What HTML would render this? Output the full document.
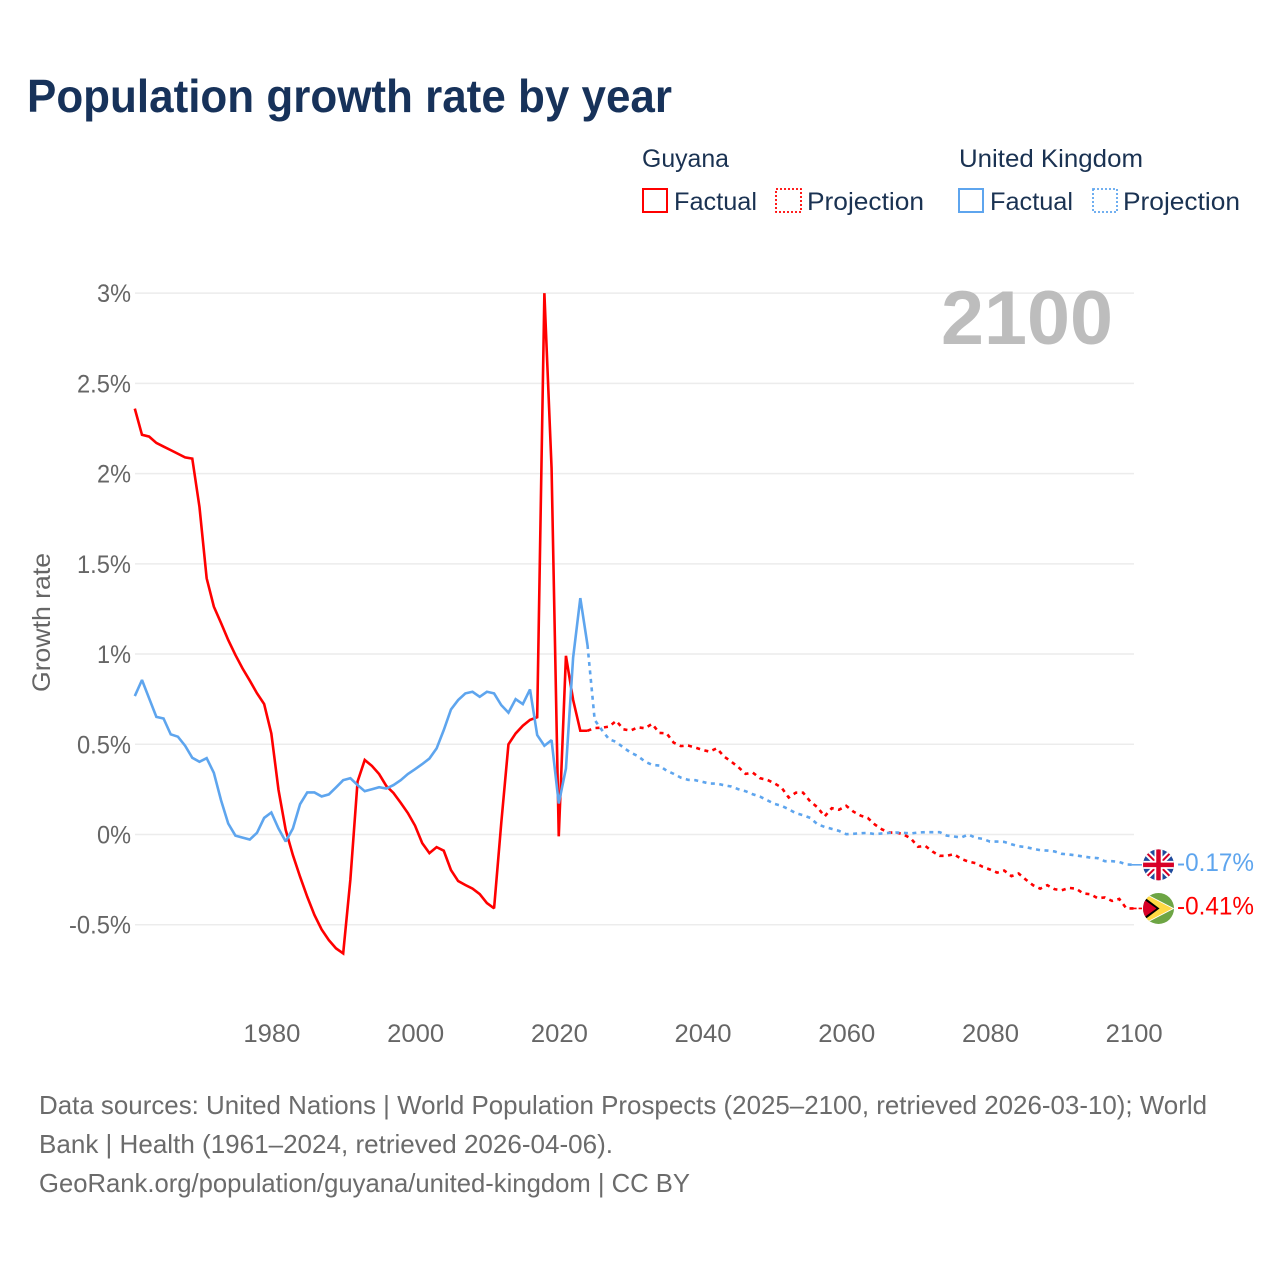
<!DOCTYPE html>
<html lang="en">
<head>
<meta charset="utf-8">
<title>Population growth rate by year</title>
<style>
html,body{margin:0;padding:0;background:#fff;width:1280px;height:1280px;overflow:hidden}
svg{display:block}
text{font-family:"Liberation Sans",sans-serif}
</style>
</head>
<body>
<svg id="chart" xmlns="http://www.w3.org/2000/svg" width="1280" height="1280" viewBox="0 0 1280 1280">
  <defs>
    <clipPath id="uk-clip"><circle cx="0" cy="0" r="15.5"/></clipPath>
    <clipPath id="gy-clip"><circle cx="0" cy="0" r="15.5"/></clipPath>
  </defs>
  <text x="27" y="112" font-size="46" font-weight="700" fill="#17325a" textLength="645" lengthAdjust="spacingAndGlyphs">Population growth rate by year</text>

  <g font-size="25" fill="#1a3252">
    <text x="642" y="167" textLength="87" lengthAdjust="spacingAndGlyphs">Guyana</text>
    <rect x="643" y="189" width="24" height="23" fill="none" stroke="#ff0000" stroke-width="2"/>
    <text x="674" y="210" textLength="83" lengthAdjust="spacingAndGlyphs">Factual</text>
    <rect x="776" y="189" width="25" height="23" fill="none" stroke="#ff0000" stroke-width="1.8" stroke-dasharray="2 2"/>
    <text x="807" y="210" textLength="117" lengthAdjust="spacingAndGlyphs">Projection</text>
    <text x="959" y="167" textLength="184" lengthAdjust="spacingAndGlyphs">United Kingdom</text>
    <rect x="959" y="189" width="24" height="23" fill="none" stroke="#5ea5ee" stroke-width="2"/>
    <text x="990" y="210" textLength="83" lengthAdjust="spacingAndGlyphs">Factual</text>
    <rect x="1093" y="189" width="24" height="23" fill="none" stroke="#5ea5ee" stroke-width="1.8" stroke-dasharray="2 2"/>
    <text x="1123" y="210" textLength="117" lengthAdjust="spacingAndGlyphs">Projection</text>
  </g>

  <g id="grid"></g>
  <text x="941" y="344" font-size="76" font-weight="700" fill="#bdbdbd" textLength="172" lengthAdjust="spacingAndGlyphs">2100</text>
  <g id="y-ticks"></g>
  <g id="x-ticks"></g>
  <text transform="translate(50 692) rotate(-90)" x="0" y="0" font-size="25" fill="#666666" textLength="139" lengthAdjust="spacingAndGlyphs">Growth rate</text>

  <g id="series"></g>

  <g id="flag-uk">
    <g clip-path="url(#uk-clip)">
      <rect x="-16" y="-16" width="32" height="32" fill="#1f4a9c"/>
      <path d="M-16 -16L16 16M16 -16L-16 16" stroke="#ffffff" stroke-width="6" fill="none"/>
      <path d="M-16 -16L16 16M16 -16L-16 16" stroke="#d80027" stroke-width="2" fill="none"/>
      <path d="M0 -16V16M-16 0H16" stroke="#ffffff" stroke-width="8" fill="none"/>
      <path d="M0 -16V16M-16 0H16" stroke="#d80027" stroke-width="4.5" fill="none"/>
    </g>
  </g>
  <g id="flag-gy">
    <g clip-path="url(#gy-clip)">
      <rect x="-16" y="-16" width="32" height="32" fill="#6da544"/>
      <path d="M-15 -16L16 0L-15 16Z" fill="#ffffff"/>
      <path d="M-13 -14L14 0L-13 14Z" fill="#ffda44"/>
      <path d="M-15 -12L1 0L-15 12Z" fill="#000000"/>
      <path d="M-16 -10L-2 0L-16 10Z" fill="#d80027"/>
    </g>
  </g>
  <text id="end-uk" x="1177" font-size="25" fill="#5ea5ee" textLength="77" lengthAdjust="spacingAndGlyphs"></text>
  <text id="end-gy" x="1177" font-size="25" fill="#ff0000" textLength="77" lengthAdjust="spacingAndGlyphs"></text>

  <g font-size="26" fill="#6b6b6b">
    <text x="39" y="1114" textLength="1168" lengthAdjust="spacingAndGlyphs">Data sources: United Nations | World Population Prospects (2025–2100, retrieved 2026-03-10); World</text>
    <text x="39" y="1153" textLength="574" lengthAdjust="spacingAndGlyphs">Bank | Health (1961–2024, retrieved 2026-04-06).</text>
    <text x="39" y="1192" textLength="651" lengthAdjust="spacingAndGlyphs">GeoRank.org/population/guyana/united-kingdom | CC BY</text>
  </g>
</svg>
<script>
const factualStartYear = 1961;
const projectionStartYear = 2024;
const yTickValues = [-0.5, 0, 0.5, 1, 1.5, 2, 2.5, 3];
const yTickLabels = ["-0.5%", "0%", "0.5%", "1%", "1.5%", "2%", "2.5%", "3%"];
const xTickYears = [1980, 2000, 2020, 2040, 2060, 2080, 2100];
const guyanaFactual = [2.36,2.215,2.205,2.17,2.15,2.13,2.11,2.09,2.083,1.815,1.42,1.263,1.172,1.078,0.995,0.92,0.853,0.783,0.723,0.56,0.247,0.025,-0.114,-0.234,-0.345,-0.446,-0.526,-0.585,-0.631,-0.659,-0.25,0.293,0.413,0.38,0.335,0.269,0.23,0.176,0.119,0.049,-0.048,-0.103,-0.07,-0.09,-0.197,-0.258,-0.28,-0.3,-0.33,-0.38,-0.409,0.064,0.5,0.56,0.603,0.635,0.65,3.0,2.03,-0.01,0.99,0.746,0.575,0.575];
const guyanaProjection = [0.575,0.59,0.592,0.598,0.63,0.583,0.576,0.594,0.589,0.613,0.563,0.561,0.509,0.49,0.493,0.482,0.469,0.459,0.478,0.432,0.404,0.373,0.336,0.343,0.312,0.303,0.284,0.26,0.205,0.232,0.232,0.183,0.151,0.1,0.146,0.137,0.159,0.127,0.105,0.092,0.055,0.028,0.011,0.011,0,-0.022,-0.068,-0.063,-0.094,-0.118,-0.118,-0.109,-0.135,-0.15,-0.159,-0.179,-0.194,-0.211,-0.2,-0.231,-0.216,-0.25,-0.281,-0.3,-0.281,-0.303,-0.309,-0.296,-0.3,-0.327,-0.331,-0.353,-0.349,-0.368,-0.357,-0.41,-0.41];
const ukFactual = [0.767,0.856,0.754,0.652,0.643,0.555,0.542,0.492,0.425,0.403,0.423,0.342,0.19,0.061,-0.006,-0.017,-0.028,0.009,0.092,0.122,0.033,-0.039,0.033,0.168,0.233,0.233,0.211,0.222,0.261,0.301,0.312,0.274,0.24,0.251,0.262,0.255,0.274,0.301,0.335,0.362,0.39,0.421,0.477,0.579,0.693,0.745,0.782,0.791,0.763,0.791,0.782,0.717,0.675,0.75,0.723,0.804,0.551,0.492,0.523,0.172,0.366,0.98,1.31,1.05];
const ukProjection = [1.05,0.635,0.579,0.528,0.513,0.482,0.454,0.435,0.404,0.386,0.382,0.354,0.336,0.315,0.303,0.301,0.292,0.282,0.282,0.273,0.266,0.251,0.24,0.223,0.21,0.19,0.17,0.159,0.14,0.118,0.107,0.092,0.057,0.042,0.031,0.02,0.002,0.004,0.007,0.009,0.002,0.006,0.009,0.011,0.009,0.006,0.011,0.013,0.013,0.013,-0.006,-0.011,-0.017,0,-0.018,-0.024,-0.039,-0.039,-0.041,-0.054,-0.065,-0.07,-0.079,-0.087,-0.089,-0.094,-0.107,-0.111,-0.116,-0.122,-0.128,-0.131,-0.148,-0.148,-0.152,-0.166,-0.168];
const endLabelUk = "-0.17%";
const endLabelGuyana = "-0.41%";

const NS = "http://www.w3.org/2000/svg";
const RED = "#ff0000";
const BLUE = "#5ea5ee";
function xScale(year) { return 134.8 + (year - 1961) * (998.8 / 139); }
function yScale(v) { return 834.5 - v * 180.45; }
function make(tag, attrs, parent) {
  const el = document.createElementNS(NS, tag);
  for (const k in attrs) el.setAttribute(k, attrs[k]);
  parent.appendChild(el);
  return el;
}
function pointsFor(values, startYear) {
  return values.map((v, i) => xScale(startYear + i).toFixed(2) + "," + yScale(v).toFixed(2)).join(" ");
}
function pctWidth(label) {
  let w = 0;
  for (const c of label) w += c === "%" ? 20 : c === "." ? 6 : c === "-" ? 8 : 14;
  return w;
}

const grid = document.getElementById("grid");
const yTicks = document.getElementById("y-ticks");
yTickValues.forEach((v, i) => {
  const line = make("line", {x1: 135, x2: 1134, y1: yScale(v), y2: yScale(v), stroke: "#ececec", "stroke-width": 1.5}, grid);
  
  
  const label = make("text", {x: 131, y: yScale(v) + 9, "text-anchor": "end", "font-size": 25, fill: "#666666", textLength: pctWidth(yTickLabels[i]), lengthAdjust: "spacingAndGlyphs"}, yTicks);
  
  
  label.textContent = yTickLabels[i];
});

const xTicks = document.getElementById("x-ticks");
xTickYears.forEach((year) => {
  const label = make("text", {x: xScale(year) + 0.6, y: 1042, "text-anchor": "middle", "font-size": 25, fill: "#666666", textLength: 57, lengthAdjust: "spacingAndGlyphs"}, xTicks);
  
  
  label.textContent = String(year);
});

const ukEndY = yScale(ukProjection[ukProjection.length - 1]);
const gyEndY = yScale(guyanaProjection[guyanaProjection.length - 1]);
const series = document.getElementById("series");
const guyanaSolid = make("polyline", {points: pointsFor(guyanaFactual, factualStartYear), fill: "none", stroke: RED, "stroke-width": 2.6, "stroke-linejoin": "miter", "stroke-miterlimit": 2}, series);


const guyanaDashed = make("polyline", {points: pointsFor(guyanaProjection, projectionStartYear), fill: "none", stroke: RED, "stroke-width": 2.6, "stroke-dasharray": "4 4.5"}, series);


const guyanaConnector = make("line", {x1: xScale(2100) - 2, x2: 1142, y1: gyEndY, y2: gyEndY, stroke: RED, "stroke-width": 1.6, "stroke-dasharray": "5 2"}, series);


const ukSolid = make("polyline", {points: pointsFor(ukFactual, factualStartYear), fill: "none", stroke: BLUE, "stroke-width": 2.6, "stroke-linejoin": "miter", "stroke-miterlimit": 2}, series);


const ukDashed = make("polyline", {points: pointsFor(ukProjection, projectionStartYear), fill: "none", stroke: BLUE, "stroke-width": 2.6, "stroke-dasharray": "4 4.5"}, series);


const ukConnector = make("line", {x1: xScale(2100) - 2, x2: 1142, y1: ukEndY, y2: ukEndY, stroke: BLUE, "stroke-width": 1.6}, series);



document.getElementById("flag-uk").setAttribute("transform", "translate(1158.5 " + ukEndY + ")");
document.getElementById("flag-gy").setAttribute("transform", "translate(1158.5 " + gyEndY + ")");
const endUk = document.getElementById("end-uk");
endUk.setAttribute("y", ukEndY + 6);
endUk.textContent = endLabelUk;
const endGy = document.getElementById("end-gy");
endGy.setAttribute("y", gyEndY + 6);
endGy.textContent = endLabelGuyana;
</script>
</body>
</html>
